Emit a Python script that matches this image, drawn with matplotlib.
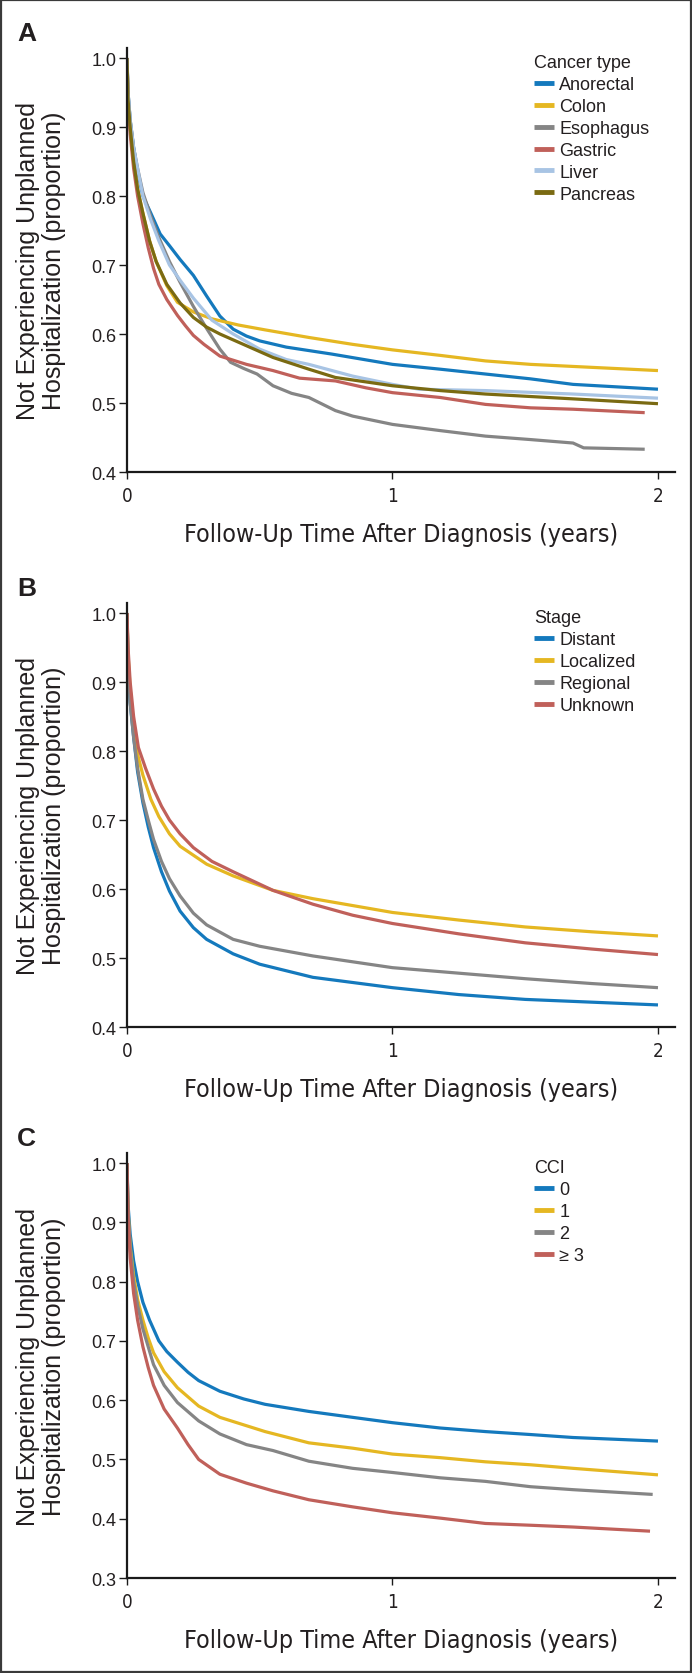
import matplotlib
matplotlib.use("Agg")
import matplotlib.pyplot as plt
from matplotlib import font_manager
from matplotlib.patches import Rectangle

# Panel A - cancer type
a_names = ["Anorectal", "Colon", "Esophagus", "Gastric", "Liver", "Pancreas"]
a_t = {
    "Anorectal": [0, 0.004, 0.012, 0.025, 0.04, 0.06, 0.09, 0.125, 0.16, 0.2, 0.25, 0.3, 0.35, 0.4, 0.45, 0.5, 0.6, 0.77, 1.0, 1.18, 1.35, 1.52, 1.68, 2.0],
    "Colon": [0, 0.004, 0.012, 0.025, 0.04, 0.06, 0.085, 0.11, 0.15, 0.19, 0.25, 0.32, 0.42, 0.52, 0.685, 0.85, 1.0, 1.18, 1.35, 1.52, 1.68, 2.0],
    "Esophagus": [0, 0.004, 0.012, 0.025, 0.04, 0.06, 0.09, 0.12, 0.16, 0.2, 0.25, 0.3, 0.35, 0.39, 0.44, 0.49, 0.55, 0.62, 0.685, 0.785, 0.85, 1.0, 1.18, 1.35, 1.52, 1.68, 1.72, 1.95],
    "Gastric": [0, 0.004, 0.012, 0.025, 0.04, 0.06, 0.08, 0.1, 0.12, 0.15, 0.19, 0.22, 0.25, 0.29, 0.35, 0.45, 0.55, 0.65, 0.785, 0.9, 1.0, 1.18, 1.35, 1.52, 1.68, 1.95],
    "Liver": [0, 0.004, 0.012, 0.025, 0.04, 0.06, 0.09, 0.12, 0.16, 0.2, 0.25, 0.32, 0.4, 0.5, 0.6, 0.685, 0.85, 1.0, 1.1, 1.35, 1.68, 2.0],
    "Pancreas": [0, 0.004, 0.012, 0.025, 0.04, 0.06, 0.085, 0.11, 0.15, 0.2, 0.25, 0.3, 0.35, 0.45, 0.55, 0.685, 0.785, 1.0, 1.18, 1.35, 1.68, 2.0],
}
a_v = {
    "Anorectal": [1.0, 0.95, 0.91, 0.87, 0.835, 0.80, 0.775, 0.745, 0.728, 0.708, 0.685, 0.655, 0.626, 0.607, 0.597, 0.59, 0.581, 0.571, 0.556, 0.549, 0.542, 0.535, 0.527, 0.520],
    "Colon": [1.0, 0.94, 0.90, 0.85, 0.81, 0.775, 0.735, 0.705, 0.67, 0.646, 0.632, 0.622, 0.613, 0.606, 0.595, 0.585, 0.577, 0.569, 0.561, 0.556, 0.553, 0.547],
    "Esophagus": [1.0, 0.95, 0.91, 0.87, 0.84, 0.805, 0.77, 0.74, 0.705, 0.675, 0.64, 0.608, 0.578, 0.559, 0.55, 0.542, 0.525, 0.514, 0.508, 0.489, 0.481, 0.469, 0.46, 0.452, 0.447, 0.442, 0.435, 0.433],
    "Gastric": [1.0, 0.94, 0.89, 0.84, 0.80, 0.76, 0.725, 0.695, 0.672, 0.65, 0.627, 0.612, 0.598, 0.585, 0.568, 0.556, 0.547, 0.536, 0.532, 0.522, 0.515, 0.508, 0.498, 0.493, 0.491, 0.486],
    "Liver": [1.0, 0.95, 0.91, 0.87, 0.84, 0.80, 0.765, 0.735, 0.70, 0.678, 0.652, 0.62, 0.60, 0.578, 0.563, 0.556, 0.539, 0.527, 0.52, 0.518, 0.513, 0.507],
    "Pancreas": [1.0, 0.94, 0.90, 0.85, 0.81, 0.775, 0.735, 0.705, 0.672, 0.645, 0.624, 0.61, 0.60, 0.583, 0.566, 0.549, 0.537, 0.525, 0.518, 0.513, 0.506, 0.499],
}

# Panel B - stage
b_names = ["Distant", "Localized", "Regional", "Unknown"]
b_t = {
    "Distant": [0, 0.004, 0.012, 0.025, 0.04, 0.06, 0.08, 0.1, 0.13, 0.16, 0.2, 0.25, 0.3, 0.4, 0.5, 0.7, 1.0, 1.25, 1.5, 1.75, 2.0],
    "Localized": [0, 0.004, 0.012, 0.025, 0.04, 0.06, 0.09, 0.12, 0.16, 0.2, 0.3, 0.4, 0.55, 0.7, 1.0, 1.25, 1.5, 1.75, 2.0],
    "Regional": [0, 0.004, 0.012, 0.025, 0.04, 0.06, 0.08, 0.1, 0.13, 0.16, 0.2, 0.25, 0.3, 0.4, 0.5, 0.7, 1.0, 1.25, 1.5, 1.75, 2.0],
    "Unknown": [0, 0.004, 0.012, 0.025, 0.043, 0.07, 0.1, 0.13, 0.16, 0.2, 0.25, 0.32, 0.4, 0.55, 0.7, 0.85, 1.0, 1.25, 1.5, 1.75, 2.0],
}
b_v = {
    "Distant": [1.0, 0.93, 0.87, 0.82, 0.77, 0.725, 0.69, 0.66, 0.625, 0.597, 0.568, 0.544, 0.527, 0.506, 0.491, 0.472, 0.457, 0.447, 0.44, 0.436, 0.432],
    "Localized": [1.0, 0.94, 0.89, 0.835, 0.795, 0.765, 0.73, 0.705, 0.68, 0.662, 0.636, 0.619, 0.598, 0.586, 0.566, 0.555, 0.545, 0.538, 0.532],
    "Regional": [1.0, 0.93, 0.87, 0.82, 0.775, 0.73, 0.70, 0.672, 0.64, 0.615, 0.59, 0.565, 0.548, 0.527, 0.517, 0.503, 0.486, 0.478, 0.47, 0.463, 0.457],
    "Unknown": [1.0, 0.95, 0.90, 0.85, 0.805, 0.775, 0.745, 0.72, 0.70, 0.68, 0.66, 0.64, 0.625, 0.598, 0.578, 0.562, 0.55, 0.535, 0.522, 0.513, 0.505],
}

# Panel C - CCI
c_names = ["0", "1", "2", "\u2265 3"]
c_t = {
    "0": [0, 0.004, 0.012, 0.025, 0.04, 0.06, 0.085, 0.12, 0.15, 0.19, 0.23, 0.27, 0.35, 0.44, 0.52, 0.685, 0.85, 1.0, 1.18, 1.35, 1.52, 1.68, 2.0],
    "1": [0, 0.004, 0.012, 0.025, 0.04, 0.06, 0.08, 0.1, 0.14, 0.19, 0.27, 0.35, 0.52, 0.685, 0.85, 1.0, 1.18, 1.35, 1.52, 1.68, 2.0],
    "2": [0, 0.004, 0.012, 0.025, 0.04, 0.06, 0.08, 0.1, 0.14, 0.19, 0.27, 0.35, 0.45, 0.55, 0.685, 0.85, 1.0, 1.18, 1.35, 1.52, 1.68, 1.98],
    "\u2265 3": [0, 0.004, 0.012, 0.025, 0.04, 0.06, 0.08, 0.1, 0.14, 0.19, 0.23, 0.27, 0.35, 0.45, 0.55, 0.685, 0.85, 1.0, 1.18, 1.35, 1.52, 1.68, 1.97],
}
c_v = {
    "0": [1.0, 0.93, 0.88, 0.835, 0.80, 0.765, 0.735, 0.70, 0.682, 0.664, 0.647, 0.633, 0.615, 0.602, 0.593, 0.581, 0.571, 0.562, 0.553, 0.547, 0.542, 0.537, 0.531],
    "1": [1.0, 0.92, 0.86, 0.81, 0.77, 0.735, 0.705, 0.68, 0.648, 0.621, 0.59, 0.571, 0.547, 0.528, 0.519, 0.509, 0.503, 0.496, 0.491, 0.485, 0.474],
    "2": [1.0, 0.92, 0.855, 0.80, 0.76, 0.72, 0.69, 0.66, 0.625, 0.596, 0.565, 0.543, 0.525, 0.515, 0.497, 0.485, 0.478, 0.469, 0.463, 0.454, 0.449, 0.441],
    "\u2265 3": [1.0, 0.91, 0.84, 0.78, 0.735, 0.69, 0.655, 0.625, 0.585, 0.553, 0.525, 0.50, 0.475, 0.46, 0.447, 0.432, 0.42, 0.41, 0.401, 0.392, 0.389, 0.386, 0.379],
}

COL_BLUE = "#1479bd"
COL_YEL = "#e5b722"
COL_GRY = "#858585"
COL_RED = "#c0605a"
COL_LBLU = "#a8c4e4"
COL_OLV = "#7a6a12"
TXT = "#231f20"

panels = [
    ("A", "Cancer type", a_names, a_t, a_v, [COL_BLUE, COL_YEL, COL_GRY, COL_RED, COL_LBLU, COL_OLV], 0.4,
     [0.1835, 0.71744, 0.7919, 0.25329]),
    ("B", "Stage", b_names, b_t, b_v, [COL_BLUE, COL_YEL, COL_GRY, COL_RED], 0.4,
     [0.1835, 0.38590, 0.7919, 0.25329]),
    ("C", "CCI", c_names, c_t, c_v, [COL_BLUE, COL_YEL, COL_GRY, COL_RED], 0.3,
     [0.1835, 0.05675, 0.7919, 0.25388]),
]

plt.rcParams['font.family'] = ['Liberation Sans', 'DejaVu Sans']

# condensed face for the x axis text if one is installed
narrow_font = None
for f in font_manager.fontManager.ttflist:
    if f.name in ('Liberation Sans Narrow',):
        narrow_font = dict(fontfamily=[f.name, 'DejaVu Sans'], fontsize=19.8)
        break
if narrow_font is None:
    for f in font_manager.fontManager.ttflist:
        if f.name == 'DejaVu Sans' and str(f.stretch) in ('condensed', '300', 'semi-condensed'):
            narrow_font = dict(fontfamily=['DejaVu Sans'], fontstretch='condensed', fontsize=17.9)
            break
if narrow_font is None:
    narrow_font = dict(fontfamily=['Liberation Sans', 'DejaVu Sans'], fontsize=17)
tick_font = dict(narrow_font)
tick_font['fontsize'] = 13.5

fig = plt.figure(figsize=(6.92, 16.74), dpi=100)

for letter, title, names, tdict, vdict, colors, ymin, pos in panels:
    ax = fig.add_axes(pos)
    for name, col in zip(names, colors):
        ax.plot(tdict[name], vdict[name], color=col, lw=2.3, label=name,
                solid_joinstyle='round', solid_capstyle='butt')
    span = 1.0 - ymin
    ax.set_xlim(0, 2.064)
    ax.set_ylim(ymin, 1.0 + 0.0145 * span / 0.6)
    ax.set_xticks([0, 1, 2])
    ax.set_xticklabels(["0", "1", "2"], color=TXT, **tick_font)
    yt = [round(ymin + 0.1 * i, 1) for i in range(int(round(span * 10)) + 1)]
    ax.set_yticks(yt)
    ax.set_yticklabels([f"{v:.1f}" for v in yt], fontsize=13, color=TXT)
    for s in ["top", "right"]:
        ax.spines[s].set_visible(False)
    for s in ["left", "bottom"]:
        ax.spines[s].set_linewidth(1.6)
        ax.spines[s].set_color("#1a1a1a")
    ax.tick_params(axis='y', direction='out', length=6, width=1, pad=1.5, colors="#1a1a1a", labelcolor=TXT)
    ax.tick_params(axis='x', direction='out', length=5, width=1, pad=5, colors="#1a1a1a", labelcolor=TXT)
    ax.set_xlabel("Follow-Up Time After Diagnosis (years)", color=TXT, labelpad=12, **narrow_font)
    # y label drawn as two centred lines
    y0, h = pos[1], pos[3]
    fig.text(41 / 692, y0 + h / 2, "Not Experiencing Unplanned\nHospitalization (proportion)",
             rotation=90, ha='center', va='center', multialignment='center',
             fontsize=18, color=TXT, linespacing=1.1)
    fig.text(17 / 692, y0 + h + 8 / 1674, letter, fontsize=19, fontweight='bold',
             color=TXT, ha='left', va='baseline')
    leg = ax.legend(loc='upper left', bbox_to_anchor=(0.7427, 0.985), frameon=False,
                    title=title, alignment='left', fontsize=13, title_fontsize=13,
                    handlelength=1.1, handletextpad=0.3, labelspacing=0.27,
                    borderpad=0, borderaxespad=0)
    for txt in leg.get_texts():
        txt.set_color(TXT)
    leg.get_title().set_color(TXT)
    for line in leg.get_lines():
        line.set_linewidth(3.5)

fig.patches.append(Rectangle((0.001, 0.0006), 0.998, 0.9988, transform=fig.transFigure,
                             fill=False, edgecolor="#3a3a3a", lw=1.6))

fig.savefig("out.png", dpi=100)
